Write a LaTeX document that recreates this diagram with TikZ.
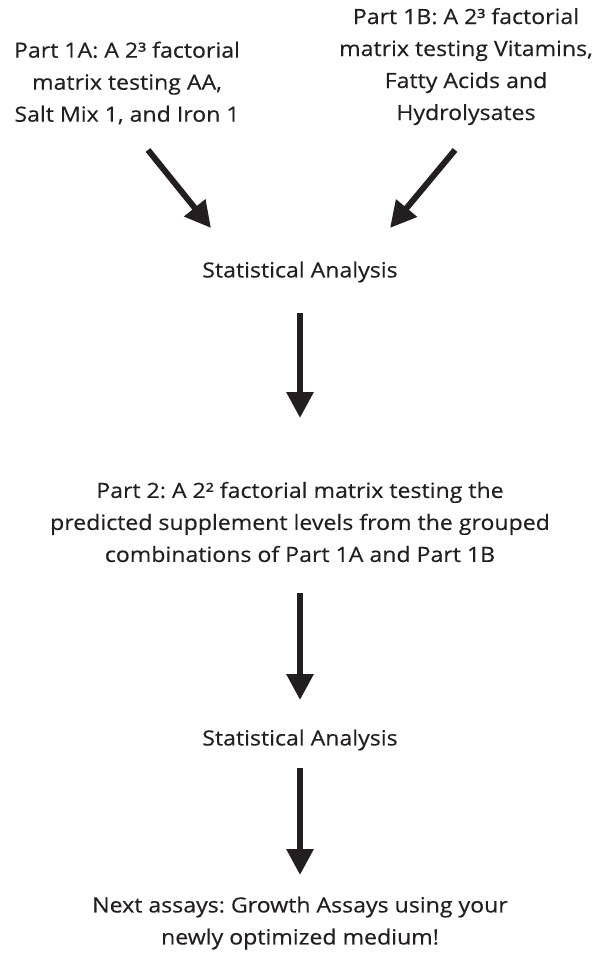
\documentclass[tikz,border=0pt]{standalone}
\usepackage{fontspec}
\setmainfont[FakeStretch=1.1, FakeBold=0.4]{Open Sans}
\usepackage{tikz}
\usetikzlibrary{arrows.meta}
\definecolor{ink}{HTML}{231F20}
\frenchspacing

\begin{document}
\begin{tikzpicture}[x=1bp, y=-1bp,
		txt/.style={align=center, inner sep=0pt, text=ink,
			font=\fontsize{21bp}{32bp}\selectfont},
		bigarrow/.style={draw=ink, line width=6bp,
			-{Triangle[length=26bp, width=26bp]}}]

	\useasboundingbox (0,0) rectangle (600,953);

	% text blocks
	\node[txt] (p1a) at (127,83) {Part 1A: A 2³ factorial\\matrix testing AA,\\Salt Mix 1, and Iron 1};
	\node[txt] (p1b) at (466,66.5) {Part 1B: A 2³ factorial\\matrix testing Vitamins,\\Fatty Acids and\\Hydrolysates};
	\node[txt] (stat1) at (300,272) {Statistical Analysis};
	\node[txt] (p2) at (300,522) {Part 2: A 2² factorial matrix testing the\\predicted supplement levels from the grouped\\combinations of Part 1A and Part 1B};
	\node[txt] (stat2) at (300,740) {Statistical Analysis};
	\node[txt] (next) at (300,923) {Next assays: Growth Assays using your\\newly optimized medium!};

	% arrows
	\draw[bigarrow] ([shift={(21,67)}]p1a.center) -- ([shift={(84,145)}]p1a.center);
	\draw[bigarrow] ([shift={(-11,83.5)}]p1b.center) -- ([shift={(-76,161.5)}]p1b.center);
	\draw[bigarrow] ([yshift=-41bp]stat1.center) -- ([yshift=104bp]p2.center);
	\draw[bigarrow] ([yshift=-71bp]p2.center) -- ([yshift=40bp]stat2.center);
	\draw[bigarrow] ([yshift=-28bp]stat2.center) -- ([yshift=48bp]next.center);
\end{tikzpicture}
\end{document}
